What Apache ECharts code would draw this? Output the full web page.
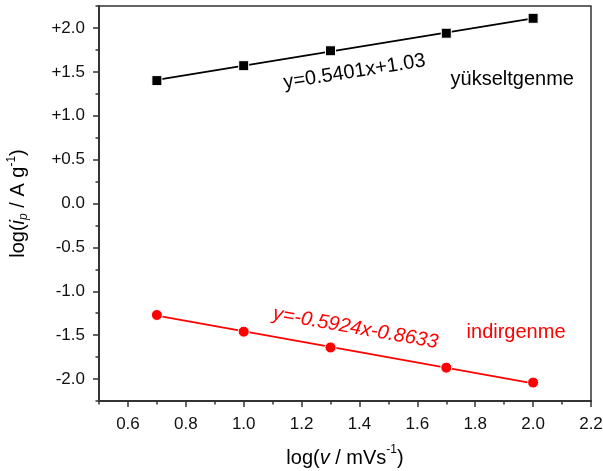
<!DOCTYPE html>
<html>
<head>
<meta charset="utf-8">
<script src="https://cdn.jsdelivr.net/npm/echarts@6/dist/echarts.min.js"></script>
<style>
  html, body { margin: 0; padding: 0; background: #fff; }
  #chart { width: 603px; height: 471px; }
</style>
</head>
<body>
<div id="chart"></div>
<script>
// data
const logV = [0.7, 1.0, 1.3, 1.7, 2.0];
const oxidation = [1.40, 1.57, 1.74, 1.94, 2.11];   // yükseltgenme
const reduction = [-1.27, -1.46, -1.64, -1.87, -2.04]; // indirgenme
const oxFit = [[0.7, 1.408], [2.0, 2.110]];
const redFit = [[0.7, -1.278], [2.0, -2.048]];

const xMajor = [0.6, 0.8, 1.0, 1.2, 1.4, 1.6, 1.8, 2.0, 2.2];
const xMinor = [0.5, 0.7, 0.9, 1.1, 1.3, 1.5, 1.7, 1.9, 2.1];
const yMajor = [-2.0, -1.5, -1.0, -0.5, 0.0, 0.5, 1.0, 1.5, 2.0];
const yMinor = [-2.25, -1.75, -1.25, -0.75, -0.25, 0.25, 0.75, 1.25, 1.75, 2.25];

// annotation anchors (data coords)
const notes = [
  { text: 'y=0.5401x+1.03', at: [1.383, 1.50], rot: 9, color: '#000', italic: false },
  { text: 'yükseltgenme', at: [1.928, 1.41], rot: 0, color: '#000', italic: false },
  { text: 'y=-0.5924x-0.8633', at: [1.386, -1.42], rot: -10, color: '#ff0000', italic: true },
  { text: 'indirgenme', at: [1.941, -1.47], rot: 0, color: '#ff0000', italic: false }
];

const font = 'Liberation Sans, Arial, sans-serif';
const axisCol = '#333';

let myChart = echarts.init(document.getElementById('chart'));

function zip(xs, ys) {
  return xs.map((x, i) => [x, ys[i]]);
}

let option = {
  animation: false,
  textStyle: { fontFamily: font },
  grid: {
    left: 99, right: 12, top: 6, bottom: 70,
    containLabel: false, outerBoundsMode: 'none',
    show: true, borderColor: axisCol, borderWidth: 1.5
  },
  xAxis: [
    {
      type: 'value', min: 0.5, max: 2.2, position: 'bottom',
      name: '{n|log(}{i|v}{n| / mVs}{sup|-1}{n|)}',
      nameLocation: 'middle', nameGap: 43,
      nameTextStyle: {
        rich: {
          n: { fontSize: 20, color: '#000', fontFamily: font, lineHeight: 24, verticalAlign: 'bottom' },
          i: { fontSize: 20, color: '#000', fontFamily: font, fontStyle: 'italic', lineHeight: 24, verticalAlign: 'bottom' },
          sup: { fontSize: 12, color: '#000', fontFamily: font, verticalAlign: 'top', lineHeight: 24 }
        }
      },
      splitLine: { show: false },
      axisLine: { show: true, onZero: false, lineStyle: { color: axisCol, width: 2 } },
      axisTick: { show: true, inside: false, length: 6, customValues: xMajor, lineStyle: { color: axisCol, width: 1.5 } },
      axisLabel: {
        customValues: xMajor, margin: 15, fontSize: 17, color: '#111', fontFamily: font,
        formatter: v => v.toFixed(1)
      }
    },
    {
      type: 'value', min: 0.5, max: 2.2, position: 'bottom',
      splitLine: { show: false },
      axisLine: { show: false, onZero: false },
      axisTick: { show: true, inside: false, length: 3.5, customValues: xMinor, lineStyle: { color: axisCol, width: 1.5 } },
      axisLabel: { show: false }
    }
  ],
  yAxis: [
    {
      type: 'value', min: -2.25, max: 2.25, position: 'left',
      name: '{n|log(}{i|i}{sub|p}{n| / A g}{sup|-1}{n|)}',
      nameLocation: 'middle', nameGap: 69,
      nameTextStyle: {
        rich: {
          n: { fontSize: 20, color: '#000', fontFamily: font, lineHeight: 24, verticalAlign: 'middle' },
          i: { fontSize: 20, color: '#000', fontFamily: font, fontStyle: 'italic', lineHeight: 24, verticalAlign: 'middle' },
          sub: { fontSize: 12, color: '#000', fontFamily: font, fontStyle: 'italic', verticalAlign: 'bottom', lineHeight: 24 },
          sup: { fontSize: 12, color: '#000', fontFamily: font, verticalAlign: 'top', lineHeight: 24 }
        }
      },
      splitLine: { show: false },
      axisLine: { show: true, onZero: false, lineStyle: { color: axisCol, width: 2 } },
      axisTick: { show: true, inside: false, length: 6, customValues: yMajor, lineStyle: { color: axisCol, width: 1.5 } },
      axisLabel: {
        customValues: yMajor, margin: 14, fontSize: 17, color: '#111', fontFamily: font,
        formatter: v => (v > 0 ? '+' : '') + v.toFixed(1)
      }
    },
    {
      type: 'value', min: -2.25, max: 2.25, position: 'left',
      splitLine: { show: false },
      axisLine: { show: false, onZero: false },
      axisTick: { show: true, inside: false, length: 3.5, customValues: yMinor, lineStyle: { color: axisCol, width: 1.5 } },
      axisLabel: { show: false }
    }
  ],
  series: [
    {
      name: 'fit ox', type: 'line', data: oxFit, symbol: 'none',
      lineStyle: { color: '#000', width: 1.8 }, z: 2
    },
    {
      name: 'yükseltgenme', type: 'line', data: zip(logV, oxidation),
      symbol: 'rect', symbolSize: 10,
      itemStyle: { color: '#000', borderColor: '#fff', borderWidth: 1 }, lineStyle: { width: 0 }, z: 3
    },
    {
      name: 'fit red', type: 'line', data: redFit, symbol: 'none',
      lineStyle: { color: '#ff0000', width: 1.8 }, z: 2
    },
    {
      name: 'indirgenme', type: 'line', data: zip(logV, reduction),
      symbol: 'circle', symbolSize: 11,
      itemStyle: { color: '#ff0000', borderColor: '#fff', borderWidth: 1 }, lineStyle: { width: 0 }, z: 3
    }
  ]
};

myChart.setOption(option);

// annotations placed through the chart's own scales
let elements = notes.map(n => {
  let p = myChart.convertToPixel({ xAxisIndex: 0, yAxisIndex: 0 }, n.at);
  return {
    type: 'text', x: p[0], y: p[1], rotation: n.rot * Math.PI / 180,
    style: {
      text: n.text, fill: n.color, font: (n.italic ? 'italic ' : '') + '20px ' + font,
      align: 'center', verticalAlign: 'middle'
    }
  };
});
myChart.setOption({ graphic: elements });
</script>
</body>
</html>
